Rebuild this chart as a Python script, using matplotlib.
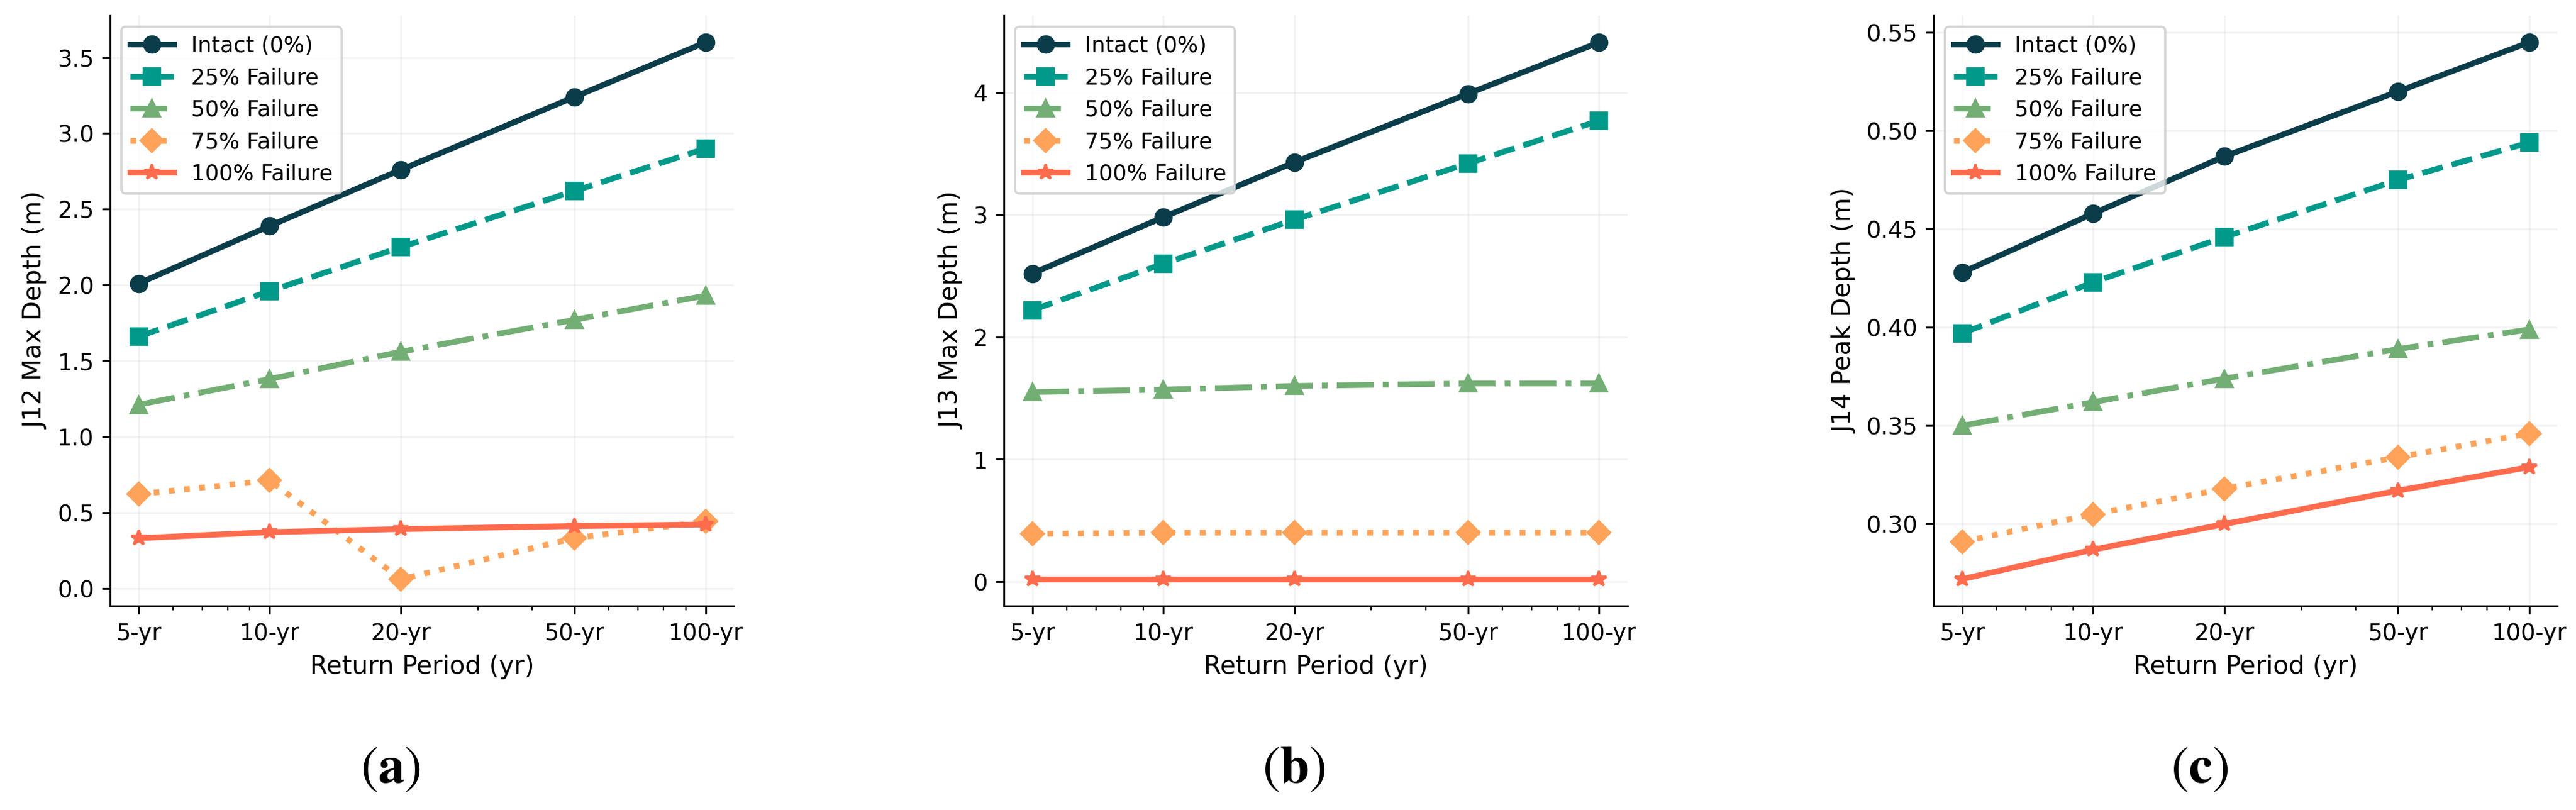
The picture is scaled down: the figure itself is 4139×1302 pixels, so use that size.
import matplotlib
matplotlib.use("Agg")
import matplotlib.pyplot as plt
from matplotlib.ticker import NullFormatter

# return periods (yr) and their tick labels
periods = [5, 10, 20, 50, 100]
period_labels = ["5-yr", "10-yr", "20-yr", "50-yr", "100-yr"]

scenarios = ["Intact (0%)", "25% Failure", "50% Failure", "75% Failure", "100% Failure"]

# J12 max depth (m)
j12_intact = [2.01, 2.39, 2.76, 3.24, 3.60]
j12_25 = [1.66, 1.96, 2.25, 2.62, 2.90]
j12_50 = [1.21, 1.38, 1.56, 1.77, 1.93]
j12_75 = [0.62, 0.71, 0.06, 0.33, 0.44]
j12_100 = [0.33, 0.37, 0.39, 0.41, 0.42]

# J13 max depth (m)
j13_intact = [2.52, 2.98, 3.43, 3.99, 4.41]
j13_25 = [2.22, 2.60, 2.96, 3.42, 3.77]
j13_50 = [1.55, 1.57, 1.60, 1.62, 1.62]
j13_75 = [0.39, 0.40, 0.40, 0.40, 0.40]
j13_100 = [0.02, 0.02, 0.02, 0.02, 0.02]

# J14 peak depth (m)
j14_intact = [0.428, 0.458, 0.487, 0.520, 0.545]
j14_25 = [0.397, 0.423, 0.446, 0.475, 0.494]
j14_50 = [0.350, 0.362, 0.374, 0.389, 0.399]
j14_75 = [0.291, 0.305, 0.318, 0.334, 0.346]
j14_100 = [0.272, 0.287, 0.300, 0.317, 0.329]

ylabels = ["J12 Max Depth (m)", "J13 Max Depth (m)", "J14 Peak Depth (m)"]
panel_tags = ["a", "b", "c"]

colors = ["#0b3c49", "#00998a", "#73ae74", "#ffa35a", "#ff6b4d"]
styles = ["-", "--", "-.", ":", "-"]
markers = ["o", "s", "^", "D", "*"]

panels = [
    [j12_intact, j12_25, j12_50, j12_75, j12_100],
    [j13_intact, j13_25, j13_50, j13_75, j13_100],
    [j14_intact, j14_25, j14_50, j14_75, j14_100],
]

plt.rcParams["font.size"] = 10
plt.rcParams["font.family"] = "DejaVu Sans"
plt.rcParams["mathtext.fontset"] = "stix"

dpi = 266
fig = plt.figure(figsize=(4139 / dpi, 1302 / dpi), dpi=dpi)

# axes boxes in figure fraction
lefts = [0.0428, 0.3897, 0.7507]
tag_x = [0.1515, 0.5023, 0.8538]

for i, series in enumerate(panels):
    ax = fig.add_axes([lefts[i], 0.2519, 0.2421, 0.7289])
    for vals, name, c, ls, mk in zip(series, scenarios, colors, styles, markers):
        ax.plot(periods, vals, linestyle=ls, marker=mk, color=c, lw=2.5,
                markersize=7, label=name)
    ax.set_xscale("log")
    ax.set_xticks(periods)
    ax.set_xticklabels(period_labels)
    ax.xaxis.set_minor_formatter(NullFormatter())
    ax.set_xlabel("Return Period (yr)", fontsize=11)
    ax.set_ylabel(ylabels[i], fontsize=11)
    ax.grid(True, alpha=0.15)
    ax.spines["top"].set_visible(False)
    ax.spines["right"].set_visible(False)
    ax.legend(loc="upper left", fontsize=9.5)
    # panel tag under each chart: (a), (b), (c)
    fig.text(tag_x[i], 0.049, r"($\mathbf{%s}$)" % panel_tags[i],
             family="STIXGeneral", fontsize=23, ha="center", va="center")

fig.savefig("out.png", dpi=dpi)
